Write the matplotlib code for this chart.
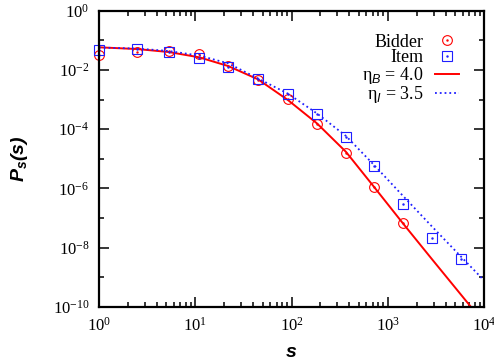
import numpy as np
import matplotlib
matplotlib.use("Agg")
import matplotlib.pyplot as plt
from matplotlib.ticker import LogLocator, NullFormatter
from matplotlib.legend_handler import HandlerTuple

plt.rcParams['font.family'] = 'Liberation Serif'
plt.rcParams['mathtext.fontset'] = 'custom'
plt.rcParams['mathtext.rm'] = 'Liberation Serif'
plt.rcParams['mathtext.it'] = 'Liberation Sans:italic'
plt.rcParams['mathtext.bf'] = 'Liberation Sans:bold'
plt.rcParams['mathtext.bfit'] = 'Liberation Sans:bold:italic'
plt.rcParams['axes.unicode_minus'] = False

# binned data
s_bins = [1, 2.5, 5.3, 11, 22, 45, 92, 184, 368, 720, 1440, 2880, 5770]
p_bidder = [0.0316, 0.0389, 0.0437, 0.0339, 0.0138, 0.00457, 0.00102,
            1.48e-4, 1.58e-5, 1.15e-6, 6.6e-8]
p_item = [0.0468, 0.0513, 0.0398, 0.0245, 0.0129, 0.0049, 0.00151,
          3.2e-4, 5.5e-5, 5.75e-6, 2.9e-7, 2.2e-8, 4.3e-9]

# fitted curves
s_fit_b = [1, 2.5, 5.3, 11, 22, 45, 92, 184, 368, 720, 1440, 2880, 7330]
p_fit_b = [0.0581, 0.0508, 0.0403, 0.0267, 0.01355, 0.00481, 9.6e-4,
           1.57e-4, 1.72e-5, 1.13e-6, 6.6e-8, 4.1e-9, 1e-10]
s_fit_i = [1, 2.5, 5.3, 11, 22, 45, 92, 184, 368, 720, 1440, 2880, 5770, 10000]
p_fit_i = [0.0571, 0.0528, 0.0436, 0.0306, 0.0167, 0.00513, 0.00158,
           3.4e-4, 5.9e-5, 6.2e-6, 5.6e-7, 5.2e-8, 5.0e-9, 7.9e-10]

red = '#ff0000'
blue = '#1f1fff'

fig = plt.figure(figsize=(4.94, 3.64), dpi=100)
ax = fig.add_axes([0.2004, 0.1566, 0.7794, 0.8140])

line_b, = ax.plot(s_fit_b, p_fit_b, '-', color=red, lw=1.4)
line_i, = ax.plot(s_fit_i, p_fit_i, ':', color=blue, lw=1.3)

circ, = ax.plot(s_bins[:len(p_bidder)], p_bidder, 'o', mfc='none', mec=red,
                ms=7, mew=0.8, clip_on=False)
circ_dot, = ax.plot(s_bins[:len(p_bidder)], p_bidder, '.', color=red, ms=1.5,
                    clip_on=False)
sq, = ax.plot(s_bins, p_item, 's', mfc='none', mec=blue, ms=7, mew=0.8,
              clip_on=False)
sq_dot, = ax.plot(s_bins, p_item, '.', color=blue, ms=1.5, clip_on=False)

ax.set_xscale('log')
ax.set_yscale('log')
ax.set_xlim(1, 1e4)
ax.set_ylim(1e-10, 1)

ax.xaxis.set_major_locator(LogLocator(base=10, numticks=10))
ax.xaxis.set_minor_locator(LogLocator(base=10, subs=np.arange(2, 10), numticks=20))
ax.xaxis.set_minor_formatter(NullFormatter())
ax.yaxis.set_major_locator(LogLocator(base=100, numticks=10))
ax.yaxis.set_minor_locator(LogLocator(base=10, subs=[1.0], numticks=20))
ax.yaxis.set_minor_formatter(NullFormatter())

ax.tick_params(which='both', direction='in', top=True, right=True,
               labelsize=12, pad=7)
ax.tick_params(which='major', length=7, width=1.1)
ax.tick_params(which='minor', length=3.5, width=1.1)
for sp in ax.spines.values():
    sp.set_linewidth(1.6)

ax.set_xlabel(r'$\mathbfit{s}$', fontsize=14)
ax.set_ylabel(r'$\mathbfit{P}_{\mathbfit{s}}\mathbfit{(s)}$', fontsize=14)
ax.xaxis.set_label_coords(0.5, -0.125)
ax.yaxis.set_label_coords(-0.18, 0.5)

leg = ax.legend([(circ, circ_dot), (sq, sq_dot), line_b, line_i],
                ['Bidder', 'Item', r'η$_B$ = 4.0', r'η$_I$ = 3.5'],
                handler_map={tuple: HandlerTuple(ndivide=1, pad=0)},
                loc='upper right', bbox_to_anchor=(0.935, 0.922),
                markerfirst=False, frameon=False, fontsize=13,
                handlelength=1.35, handletextpad=0.6, labelspacing=-0.08,
                borderpad=0, borderaxespad=0, numpoints=1)

fig.savefig('out.png', dpi=100)
